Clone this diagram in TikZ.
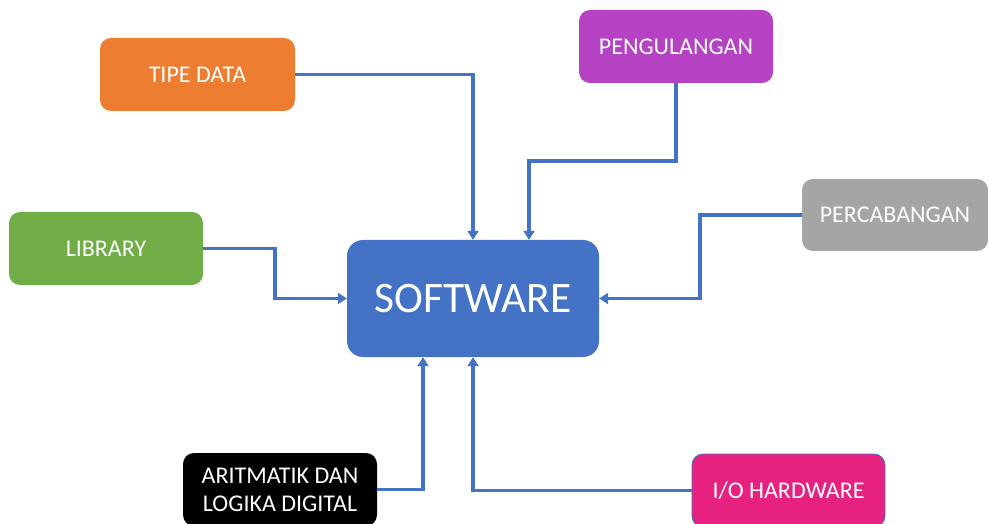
\documentclass[tikz,border=0pt]{standalone}
\usepackage{fontspec}
\setmainfont{Carlito}
\usetikzlibrary{arrows.meta}
\definecolor{swblue}{HTML}{4472C4}
\definecolor{tipeorange}{HTML}{ED7D31}
\definecolor{libgreen}{HTML}{70AD47}
\definecolor{looppurple}{HTML}{B442C2}
\definecolor{branchgray}{HTML}{A5A5A5}
\definecolor{iopink}{HTML}{E6217F}
\begin{document}
\begin{tikzpicture}[x=1pt,y=-1pt,
  box/.style={rounded corners=11pt, minimum width=194pt, minimum height=73pt,
    inner sep=0pt, text=white, align=center,
    font=\fontsize{24}{28}\selectfont},
  link/.style={draw=swblue, line width=3.2pt,
    -{Triangle[width=11pt,length=9pt]}}]
\useasboundingbox (0,0) rectangle (989,524);
\clip (0,0) rectangle (989,524);

% central block
\node[fill=swblue, rounded corners=16pt, minimum width=252pt, minimum height=117pt,
  inner sep=0pt, text=white, font=\fontsize{43.5}{48}\selectfont] (sw) at (473,298.5) {SOFTWARE};

% surrounding topics
\node[box, fill=tipeorange, minimum width=195pt] (tipe) at (197.5,74.5) {TIPE DATA};
\node[box, fill=libgreen] (lib) at (106,248.5) {LIBRARY};
\node[box, fill=looppurple] (loop) at (676,46.5) {PENGULANGAN};
\node[box, fill=branchgray, minimum width=186pt, minimum height=72pt] (branch) at (895,215) {PERCABANGAN};
\node[box, fill=black] (arit) at (280,489.5) {ARITMATIK DAN\\LOGIKA DIGITAL};
\node[box, fill=iopink, draw=swblue, line width=0.8pt, minimum width=193pt] (io) at (788.5,490.5) {I/O HARDWARE};

% bend points
\coordinate (libjog) at (275,0);
\coordinate (loopbend) at (676,161);
\coordinate (branchjog) at (700,0);

% connectors
\draw[link] (tipe.east) -| (sw.north);
\draw[link] (loop.south) -- (loopbend) -| ([xshift=56pt]sw.north);
\draw[link] (lib.east) -| (libjog |- sw.west) -- (sw.west);
\draw[link] (branch.west) -| (branchjog |- sw.east) -- (sw.east);
\draw[link] (arit.east) -| ([xshift=-50pt]sw.south);
\draw[link] (io.west) -| (sw.south);
\end{tikzpicture}
\end{document}
